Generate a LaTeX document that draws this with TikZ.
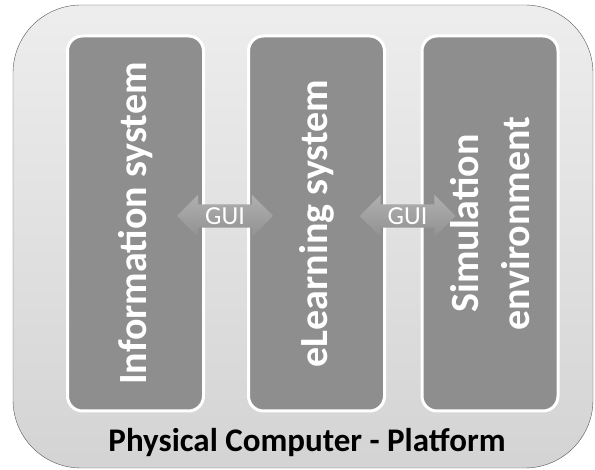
\documentclass[tikz,border=0pt]{standalone}
\usepackage{fontspec}
\setmainfont{Carlito}
\usepackage{tikz}
\usetikzlibrary{positioning}
\usetikzlibrary{shapes.arrows}

\definecolor{boxgray}{HTML}{8E8E8E}
\definecolor{framegray}{HTML}{555555}

\begin{document}
\begin{tikzpicture}[x=1pt, y=-1pt,
		sysbox/.style={rectangle, rounded corners=15pt, rotate=90, fill=boxgray, draw=white, line width=3pt, minimum width=375pt, minimum height=136pt, text=white, align=center, font=\fontsize{40}{51}\selectfont\bfseries},
		guiarrow/.style={double arrow, double arrow head extend=9.5pt, minimum height=96pt, inner xsep=2pt, inner ysep=3pt, top color=gray!62, bottom color=gray!86, text=white, font=\fontsize{26}{26}\selectfont}]
				\useasboundingbox (0,0) rectangle (595,470);
				
				\node[rectangle, rounded corners=68pt, draw=framegray, thin, top color=gray!14, bottom color=gray!34, minimum width=580pt, minimum height=463pt] (pc) at (303,236.5) {};
				
				\node[sysbox] (info) at (135.5,223.5) {Information system};
				\node[sysbox] (elearn) at (316.5,223.5) {eLearning system};
				\node[sysbox] (sim) at (490,223.5) {Simulation\\environment};
				
				\node[guiarrow] (gui1) at (225,216) {GUI};
				\node[guiarrow] (gui2) at (407.5,216) {GUI};
				
				\node[anchor=base, font=\fontsize{33}{33}\selectfont\bfseries] (pclabel) at (307,452) {Physical Computer - Platform};
			\end{tikzpicture}
\end{document}
